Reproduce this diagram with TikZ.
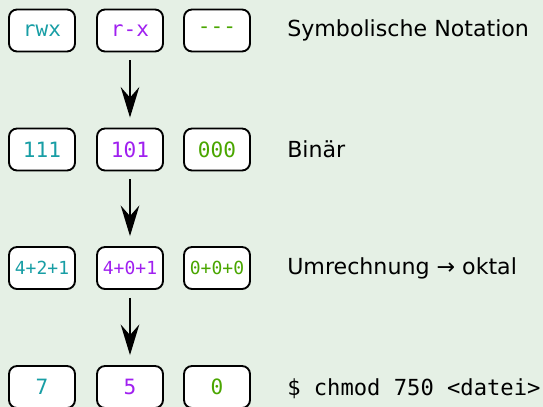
\documentclass[tikz,border=0pt]{standalone}
\usepackage{fontspec}
\setmainfont{DejaVu Sans}
\setmonofont{DejaVu Sans Mono}
\usepackage{tikz}
\usetikzlibrary{arrows.meta}

\definecolor{bggreen}{RGB}{229,240,229}
\definecolor{ownerc}{RGB}{24,158,165}
\definecolor{groupc}{RGB}{160,32,240}
\definecolor{otherc}{RGB}{74,166,0}

\tikzset{
  perm/.style={draw, fill=white, line width=1.4pt, rounded corners=6pt,
    minimum width=49.5pt, minimum height=31.5pt, inner sep=0pt,
    font=\fontsize{15.8}{18}\selectfont\ttfamily},
  sumtxt/.style={font=\fontsize{13.5}{16}\selectfont\ttfamily},
  rowlabel/.style={anchor=base west, inner sep=0pt, font=\fontsize{16.6}{20}\selectfont},
  flow/.style={-{Stealth[length=23pt,width=14pt,inset=8pt]}, line width=1.1pt,
    shorten <=6pt, shorten >=7.5pt}
}

\begin{document}
\begin{tikzpicture}[x=0.75pt,y=0.75pt,yscale=-1]
    \fill[bggreen] (0,0) rectangle (543,407);
    \useasboundingbox (0,0) rectangle (543,407);

    % Symbolic row
    \draw (42,30.5) node [perm, text=ownerc] (sym1) {rwx};
    \draw (130,30.5) node [perm, text=groupc] (sym2) {r-x};
    \draw (217,30.5) node [perm, text=otherc] (sym3) {-{}-{}-};
    % Binary row
    \draw (42,149.5) node [perm, text=ownerc] (bin1) {111};
    \draw (130,149.5) node [perm, text=groupc] (bin2) {101};
    \draw (217,149.5) node [perm, text=otherc] (bin3) {000};
    % Sum row
    \draw (42,268) node [perm, sumtxt, text=ownerc] (sum1) {4+2+1};
    \draw (130,268) node [perm, sumtxt, text=groupc] (sum2) {4+0+1};
    \draw (217,268) node [perm, sumtxt, text=otherc] (sum3) {0+0+0};
    % Octal row
    \draw (42,387) node [perm, text=ownerc] (oct1) {7};
    \draw (130,387) node [perm, text=groupc] (oct2) {5};
    \draw (217,387) node [perm, text=otherc] (oct3) {0};

    % Arrows
    \draw [flow] (sym2) -- (bin2);
    \draw [flow] (bin2) -- (sum2);
    \draw [flow] (sum2) -- (oct2);

    % Text Node
    \draw (287,36.5) node [rowlabel] (lsym) {Symbolische Notation};
    % Text Node
    \draw (287,157.5) node [rowlabel] (lbin) {Binär};
    % Text Node
    \draw (287,274.5) node [rowlabel] (lsum) {Umrechnung → oktal};
    % Text Node
    \draw (287,395) node [rowlabel, font=\fontsize{16.6}{20}\selectfont\ttfamily] (lcmd) {\$ chmod 750 <datei>};
\end{tikzpicture}
\end{document}
